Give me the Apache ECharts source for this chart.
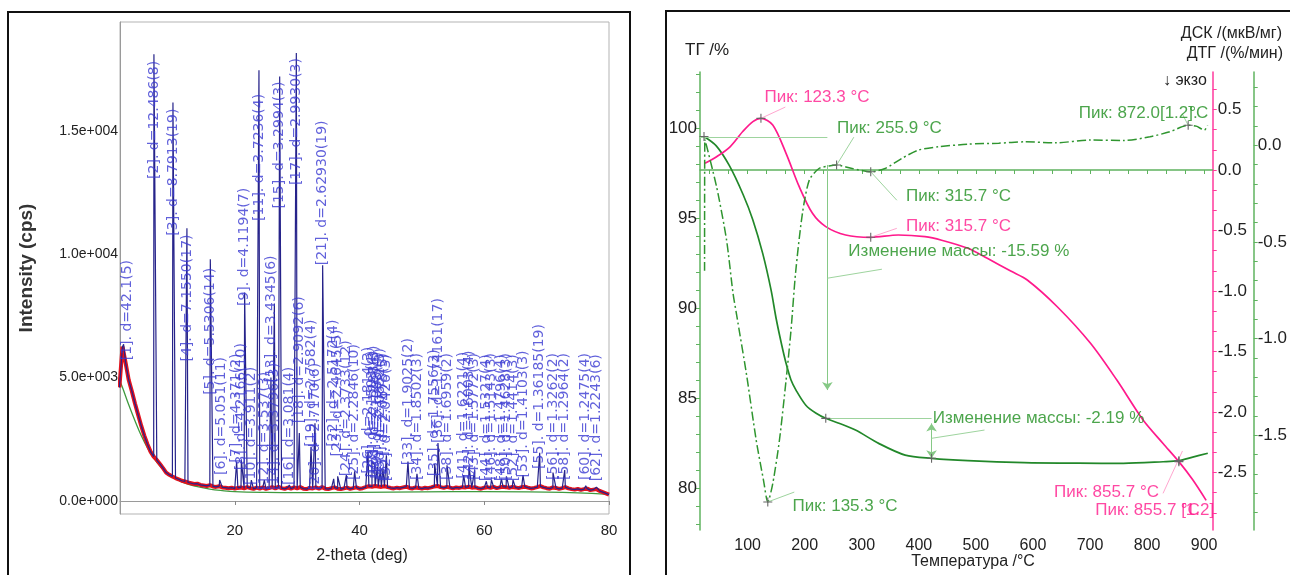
<!DOCTYPE html>
<html>
<head>
<meta charset="utf-8">
<script src="https://cdn.jsdelivr.net/npm/echarts@6/dist/echarts.min.js"></script>
<style>
  html, body { margin: 0; padding: 0; background: #fff; }
  #chart { width: 1290px; height: 575px; }
</style>
</head>
<body>
<div id="chart"></div>
<script>
// ---------------- X-ray powder pattern ----------------
// measured counts, sampled every 0.5 deg starting at 1.5 deg 2-theta
const scanStart = 1.5;
const scanStep = 0.5;
const scanCounts = [
  4600, 6250, 5600, 4900, 4450, 3950, 3500, 3050, 2650, 2300,
  2000, 1800, 1660, 1500, 1330, 1150, 1060, 990, 930, 880,
  820, 790, 750, 720, 690, 700, 650, 630, 610, 640,
  590, 570, 600, 550, 540, 520, 540, 500, 530, 550,
  510, 560, 520, 490, 540, 500, 550, 490, 520, 560,
  510, 570, 520, 490, 540, 500, 550, 510, 560, 500,
  480, 530, 510, 550, 500, 560, 500, 480, 520, 550,
  500, 480, 510, 540, 490, 520, 550, 500, 520, 560,
  600, 580, 610, 590, 570, 600, 560, 530, 510, 540,
  520, 550, 580, 530, 510, 550, 530, 500, 540, 520,
  550, 590, 610, 560, 530, 570, 540, 510, 550, 530,
  560, 550, 580, 540, 560, 520, 500, 540, 560, 530,
  570, 520, 550, 580, 560, 530, 570, 550, 520, 560,
  580, 540, 510, 530, 560, 600, 550, 520, 500, 550,
  530, 490, 520, 560, 510, 480, 460, 490, 450, 480,
  500, 440, 460, 480, 410, 360, 310, 260
];

// fitted background
const bgTheta  = [1.6, 2, 3, 4, 5, 6, 7, 8, 9, 10, 12, 14, 16, 18, 20, 25, 30, 40, 50, 60, 70, 75, 80];
const bgCounts = [4850, 4600, 3900, 3250, 2650, 2150, 1750, 1420, 1160, 960, 720, 580, 480, 420, 380, 350, 340, 350, 370, 380, 360, 330, 270];

// indexed peaks: position (2-theta), peak intensity, label
const peakTheta = [2.18, 7.04, 10.09, 12.33, 16.08, 17.58, 20.30, 21.06, 21.58, 22.66,
  23.88, 24.74, 25.80, 26.35, 27.20, 28.75, 29.87, 30.35, 32.22, 32.86,
  34.09, 35.86, 36.50, 37.89, 39.22, 41.36, 42.00, 42.43, 42.86, 43.35,
  43.76, 44.31, 47.77, 49.21, 52.05, 52.58, 54.03, 56.70, 57.55, 58.47,
  60.34, 61.15, 62.75, 63.55, 64.61, 66.21, 68.89, 71.02, 72.90, 76.27, 77.98];
const peakTop = [6350, 18100, 16150, 11050, 9800, 850, 1600, 1650, 8450, 850,
  17450, 850, 5000, 8000, 17200, 650, 18150, 2750, 2200, 3150,
  9550, 900, 1000, 1050, 1200, 2000, 1600, 1450, 1400, 1250,
  1300, 1850, 1600, 1100, 1500, 2350, 1450, 1050, 1400, 1250,
  800, 850, 900, 1000, 850, 1050, 1950, 1150, 1250, 620, 560];
const peakLabels = [
  '[1]. d=42.1(5)', '[2]. d=12.486(8)', '[3]. d=8.7913(19)', '[4]. d=7.1550(17)', '[5]. d=5.5306(14)',
  '[6]. d=5.051(11)', '[7]. d=4.371(2)', '[8]. d=4.2166(10)', '[9]. d=4.1194(7)', '[10]. d=3.911(2)',
  '[11]. d=3.7236(4)', '[12]. d=3.537(3)', '[13]. d=3.4345(6)', '[14]. d=3.3796(3)', '[15]. d=3.2994(3)',
  '[16]. d=3.081(4)', '[17]. d=2.9930(3)', '[18]. d=2.9092(6)', '[19]. d=2.7582(4)', '[20]. d=2.7170(6)',
  '[21]. d=2.62930(19)', '[22]. d=2.5172(4)', '[23]. d=2.4645(5)', '[24]. d=2.3733(12)', '[25]. d=2.2846(10)',
  '[26]. d=2.1814(3)', '[27]. d=2.1503(4)', '[28]. d=2.1288(3)', '[29]. d=2.1088(4)', '[30]. d=2.0852(3)',
  '[31]. d=2.0673(5)', '[32]. d=2.0426(3)', '[33]. d=1.9025(2)', '[34]. d=1.8502(3)', '[35]. d=1.7556(3)',
  '[36]. d=1.74161(17)', '[38]. d=1.6959(2)', '[41]. d=1.6221(4)', '[42]. d=1.6003(4)', '[43]. d=1.5772(3)',
  '[44]. d=1.5327(4)', '[46]. d=1.5143(3)', '[48]. d=1.4796(4)', '[50]. d=1.4628(3)', '[52]. d=1.4414(3)',
  '[53]. d=1.4103(3)', '[55]. d=1.36185(19)', '[56]. d=1.3262(2)', '[58]. d=1.2964(2)', '[60]. d=1.2475(4)',
  '[62]. d=1.2243(6)'
];
const xrdThetaTicks = [20, 40, 60, 80];
const xrdCountTicks = [0, 5000, 10000, 15000];

// where each peak caption starts (intensity units) and small sideways shifts
const captionBase = [5700, 13050, 10750, 5650, 4300, 1050, 1550, 1250, 7900, 650,
  11350, 450, 4800, 450, 11850, 650, 12800, 3150, 2200, 450,
  9550, 2200, 1800, 1000, 850, 1100, 950, 1150, 900, 1050,
  850, 800, 1450, 850, 1000, 2350, 850, 900, 950, 850,
  800, 850, 800, 850, 800, 950, 1300, 850, 850, 850, 800];
const captionShift = { 0: 0.67, 5: 0.27 };

// ---------------- Thermal analysis (TG / DSC / DTG) ----------------
const tgCurve = [[23.5, 99.52], [45, 99.0], [68, 97.9], [92, 96.3], [109, 94.9], [126.6, 93.0], [141, 91.0],
  [150, 89.4], [160, 87.9], [167.3, 86.93], [176, 86.0], [184.7, 85.44], [202, 84.6], [220, 84.15],
  [236.9, 83.87], [260, 83.6], [289, 83.22], [329.6, 82.48], [376, 81.83], [422.3, 81.65], [486, 81.52],
  [584.7, 81.41], [680, 81.38], [758.6, 81.37], [828, 81.46], [855.7, 81.52], [880, 81.72], [906.4, 81.93]];
const dscCurve = [[25.2, 0.055], [45.6, 0.11], [68.7, 0.19], [91.8, 0.32], [109.2, 0.40], [123.3, 0.427],
  [144, 0.372], [167.3, 0.138], [190.4, -0.138], [213.6, -0.358], [236.9, -0.468], [271.7, -0.537],
  [315.7, -0.556], [364, -0.537], [410.8, -0.551], [440, -0.58], [486, -0.647], [520, -0.73], [561, -0.835],
  [590, -0.909], [642.6, -1.13], [700.5, -1.43], [747, -1.736], [793, -2.066], [828, -2.26], [855.7, -2.41],
  [880, -2.56], [903.5, -2.73]];
const dtgCurve = [[24.5, -0.65], [25, 0.03], [45.6, -0.216], [63, -0.49], [74.4, -0.767], [80.3, -0.871],
  [97.7, -1.18], [115, -1.526], [127.8, -1.733], [135.3, -1.845], [144, -1.75], [155.7, -1.526],
  [167.3, -1.216], [176, -0.957], [184, -0.66], [196, -0.353], [208, -0.181], [225, -0.121], [242.6, -0.108],
  [255.9, -0.103], [283, -0.121], [315.7, -0.138], [341, -0.121], [370, -0.069], [399, -0.026], [434, -0.009],
  [486, 0.005], [540, 0.01], [584.7, 0.017], [640, 0.012], [700.5, 0.026], [760, 0.024], [805, 0.043],
  [839.7, 0.069], [872, 0.103], [886, 0.098], [900.5, 0.078], [906, 0.103]];

const tempTicks = [100, 200, 300, 400, 500, 600, 700, 800, 900];
const tgTicks = [80, 85, 90, 95, 100];
const dscTicks = [-2.5, -2.0, -1.5, -1.0, -0.5, 0.0, 0.5];
const dtgTicks = [-1.5, -1.0, -0.5, 0.0];

// peak readings and mass steps marked on the curves
const tgMarks = [23.5, 236.9, 422.3, 855.7];
const dscMarks = [123.3, 315.7, 855.7];
const dtgMarks = [135.3, 255.9, 315.7, 872];
const massStep1 = { from: 99.46, to: 83.87, at: 239.7, text: 'Изменение массы: -15.59 %' };
const massStep2 = { from: 83.87, to: 81.65, at: 422.3, text: 'Изменение массы: -2.19 %' };

// ---------------- drawing ----------------
const SANS = "'Liberation Sans',Arial,sans-serif";
const GREEN = '#22882a';
const TEXT_GREEN = '#1f8f1f';
const PINK = '#ff1a8c';
const AXIS_GREEN = '#5fb35f';
const PALE_GREEN = '#9ed49e';
const PALE_PINK = '#ffa6cf';

const scan = scanCounts.map((c, i) => [scanStart + i * scanStep, c]);
const profile = scan.concat(peakTheta.map((t, i) => [t, peakTop[i]]))
  .sort((a, b) => a[0] - b[0]);
const background = bgTheta.map((t, i) => [t, bgCounts[i]]);
const captions = peakTheta.map((t, i) => [t + (captionShift[i] || 0), captionBase[i], peakLabels[i]]);

const valueAt = (curve, t) => curve.find(p => p[0] === t);
const sci = v => {
  const parts = v.toExponential(1).split('e');
  return parts[0] + 'e' + parts[1][0] + parts[1].slice(1).padStart(3, '0');
};
const steps = (from, to, step) => {
  const out = [];
  for (let k = 0; from + k * step <= to + 1e-9; k++) out.push(+(from + k * step).toFixed(4));
  return out;
};

const plus = 'path://M4.4,0h1.2v4.4h4.4v1.2h-4.4v4.4h-1.2v-4.4h-4.4v-1.2h4.4z';
const crossMarks = (curve, temps) => ({
  symbol: plus, symbolSize: 9, silent: true, animation: false,
  itemStyle: { color: '#666' }, label: { show: false },
  data: temps.map(t => ({ coord: valueAt(curve, t) }))
});
const seg = (a, b, color, s0, s1) => [
  { coord: a, symbol: s0 || 'none', lineStyle: { color: color, width: 1, type: 'solid' } },
  { coord: b, symbol: s1 || 'none' }
];

const notes = [
  { text: 'Пик: 123.3 °C', at: [129.6, 101.67], color: PINK },
  { text: 'Пик: 255.9 °C', at: [256.5, 100.0], color: TEXT_GREEN },
  { text: 'Пик: 315.7 °C', at: [377.6, 96.22], color: TEXT_GREEN },
  { text: 'Пик: 315.7 °C', at: [377.6, 94.53], color: PINK },
  { text: massStep1.text, at: [276.5, 93.13], color: TEXT_GREEN },
  { text: massStep2.text, at: [424.5, 83.87], color: TEXT_GREEN },
  { text: 'Пик: 135.3 °C', at: [178.8, 78.96], color: TEXT_GREEN },
  { text: 'Пик: 855.7 °C', at: [636.9, 79.79], color: PINK },
  { text: 'Пик: 855.7 [1.2]', at: [709.2, 78.78], color: PINK },
  { text: '°C', at: [859, 78.78], color: PINK },
  { text: 'Пик: 872.0[1.2].', at: [680.3, 100.82], color: TEXT_GREEN },
  { text: '°C', at: [874, 100.82], color: TEXT_GREEN }
];

const chart = echarts.init(document.getElementById('chart'), null, { renderer: 'canvas' });

chart.setOption({
  animation: false,
  backgroundColor: '#fff',
  grid: [
    { left: 120, top: 22, width: 489, height: 492, show: true, borderColor: '#b3b3b3', borderWidth: 1 },
    { left: 700, top: 72, width: 517, height: 458 }
  ],
  xAxis: [
    {
      gridIndex: 0, type: 'value', min: 1.6, max: 80,
      axisLine: { show: true, lineStyle: { color: '#9a9a9a', width: 1 } },
      axisTick: { show: true, customValues: xrdThetaTicks, length: 4, lineStyle: { color: '#888' } },
      axisLabel: { customValues: xrdThetaTicks, fontFamily: SANS, fontSize: 15, color: '#222', margin: 9 },
      splitLine: { show: false }
    },
    {
      gridIndex: 1, type: 'value', min: 16.5, max: 915,
      axisLine: { show: true, lineStyle: { color: AXIS_GREEN, width: 1.5 } },
      axisTick: { show: true, customValues: steps(100 / 3, 915, 100 / 3), length: 4, lineStyle: { color: AXIS_GREEN } },
      axisLabel: { customValues: tempTicks, fontFamily: SANS, fontSize: 16, color: '#222', margin: 8 },
      splitLine: { show: false }
    }
  ],
  yAxis: [
    {
      gridIndex: 0, type: 'value', min: -527, max: 19409,
      axisLine: { show: true, lineStyle: { color: '#9a9a9a', width: 1 } },
      axisTick: { show: false },
      axisLabel: { customValues: xrdCountTicks, formatter: sci, fontFamily: SANS, fontSize: 14, color: '#222', margin: 2 },
      splitLine: { show: false },
      name: 'Intensity (cps)', nameLocation: 'middle', nameRotate: 90, nameGap: 84,
      nameTextStyle: { fontFamily: SANS, fontWeight: 'bold', fontSize: 19, color: '#333' }
    },
    {
      gridIndex: 1, type: 'value', position: 'left', min: 77.67, max: 103.1,
      axisLine: { show: true, lineStyle: { color: AXIS_GREEN, width: 1.5 } },
      axisTick: { show: true, customValues: steps(78, 103, 1), length: 4, lineStyle: { color: AXIS_GREEN } },
      axisLabel: { customValues: tgTicks, fontFamily: SANS, fontSize: 17, color: '#222', margin: 3 },
      splitLine: { show: false }
    },
    {
      gridIndex: 1, type: 'value', position: 'right', min: -2.975, max: 0.81,
      axisLine: { show: true, lineStyle: { color: '#ff3a9d', width: 1.5 } },
      axisTick: { show: true, customValues: steps(-2.8333, 0.7, 1 / 6), length: 4, lineStyle: { color: '#ff3a9d' } },
      axisLabel: { customValues: dscTicks, formatter: v => v.toFixed(1), fontFamily: SANS, fontSize: 17, color: '#222', margin: 5 },
      splitLine: { show: false }
    },
    {
      gridIndex: 1, type: 'value', position: 'right', offset: 41, min: -1.99, max: 0.378,
      axisLine: { show: true, lineStyle: { color: AXIS_GREEN, width: 1.5 } },
      axisTick: { show: true, customValues: steps(-1.9, 0.3, 0.1), length: 4, lineStyle: { color: AXIS_GREEN } },
      axisLabel: { customValues: dtgTicks, formatter: v => v.toFixed(1), fontFamily: SANS, fontSize: 17, color: '#222', margin: 4 },
      splitLine: { show: false }
    }
  ],
  series: [
    // --- diffraction pattern ---
    {
      name: 'background', type: 'line', xAxisIndex: 0, yAxisIndex: 0, data: background,
      smooth: 0.4, showSymbol: false, silent: true, z: 1,
      lineStyle: { color: '#3f9a3f', width: 1.3 }
    },
    {
      name: 'measured', type: 'line', xAxisIndex: 0, yAxisIndex: 0, data: scan,
      showSymbol: false, silent: true, z: 2,
      lineStyle: { color: '#e3121d', width: 4 }
    },
    {
      name: 'profile', type: 'line', xAxisIndex: 0, yAxisIndex: 0, data: profile,
      showSymbol: false, silent: true, z: 3,
      lineStyle: { color: '#26238a', width: 1.2 }
    },
    {
      name: 'peak captions', type: 'scatter', xAxisIndex: 0, yAxisIndex: 0, data: captions,
      symbolSize: 0, silent: true, z: 4,
      itemStyle: { color: 'transparent' },
      label: {
        show: true, formatter: p => p.data[2], rotate: 90, position: [0, 0],
        align: 'left', verticalAlign: 'middle',
        fontFamily: "'DejaVu Sans',sans-serif", fontSize: 14, color: '#3a3ad2'
      }
    },
    // --- thermal curves ---
    {
      name: 'ТГ', type: 'line', xAxisIndex: 1, yAxisIndex: 1, data: tgCurve,
      smooth: 0.3, showSymbol: false, silent: true, z: 3,
      lineStyle: { color: GREEN, width: 1.7 },
      markLine: {
        silent: true, animation: false, symbolSize: 8, label: { show: false },
        data: [
          seg([16.5, massStep1.from], [massStep1.at, massStep1.from], PALE_GREEN),
          seg([massStep1.at, 97.94], [massStep1.at, 85.44], '#86c986', 'none', 'arrow'),
          seg([236.9, massStep2.from], [massStep2.at, massStep2.from], PALE_GREEN),
          seg([massStep2.at, 83.59], [massStep2.at, massStep2.to], '#86c986', 'arrow', 'arrow'),
          seg([massStep1.at, 91.65], [335.3, 92.15], PALE_GREEN),
          seg([massStep2.at, 82.76], [515.1, 83.22], PALE_GREEN)
        ]
      },
      markPoint: crossMarks(tgCurve, tgMarks)
    },
    {
      name: 'ДСК', type: 'line', xAxisIndex: 1, yAxisIndex: 2, data: dscCurve,
      smooth: 0.3, showSymbol: false, silent: true, z: 3,
      lineStyle: { color: PINK, width: 1.7 },
      markLine: {
        silent: true, animation: false, label: { show: false },
        data: [
          seg([123.3, 0.427], [166, 0.52], PALE_PINK),
          seg([315.7, -0.556], [361.4, -0.482], PALE_PINK),
          seg([828, -2.672], [862, -2.322], PALE_PINK)
        ]
      },
      markPoint: crossMarks(dscCurve, dscMarks)
    },
    {
      name: 'ДТГ', type: 'line', xAxisIndex: 1, yAxisIndex: 3, data: dtgCurve,
      smooth: 0.25, showSymbol: false, silent: true, z: 3,
      lineStyle: { color: '#2f952f', width: 1.5, type: [9, 3, 2, 3] },
      markLine: {
        silent: true, animation: false, label: { show: false },
        data: [
          seg([255.9, -0.103], [286.1, 0.041], PALE_GREEN),
          seg([315.7, -0.138], [361.4, -0.285], PALE_GREEN),
          seg([135.3, -1.845], [181.7, -1.794], PALE_GREEN),
          seg([872, 0.103], [862, 0.16], PALE_GREEN)
        ]
      },
      markPoint: crossMarks(dtgCurve, dtgMarks)
    },
    {
      name: 'notes', type: 'scatter', xAxisIndex: 1, yAxisIndex: 1, symbolSize: 0, silent: true, z: 5,
      itemStyle: { color: 'transparent' },
      data: notes.map(n => ({ value: n.at, name: n.text, label: { color: n.color } })),
      label: {
        show: true, formatter: p => p.name, position: [0, 0], align: 'left', verticalAlign: 'middle',
        fontFamily: SANS, fontSize: 17
      }
    }
  ],
  graphic: [
    { type: 'rect', silent: true, z: 100, shape: { x: 8, y: 12, width: 622, height: 620 },
      style: { fill: 'transparent', stroke: '#111', lineWidth: 2 } },
    { type: 'rect', silent: true, z: 100, shape: { x: 666, y: 11, width: 700, height: 620 },
      style: { fill: 'transparent', stroke: '#111', lineWidth: 2 } },
    { type: 'text', silent: true, x: 362, y: 556,
      style: { text: '2-theta (deg)', font: '16px ' + SANS, fill: '#222', textAlign: 'center', textVerticalAlign: 'middle' } },
    { type: 'text', silent: true, x: 685, y: 50,
      style: { text: 'ТГ /%', font: '17px ' + SANS, fill: '#222', textAlign: 'left', textVerticalAlign: 'middle' } },
    { type: 'text', silent: true, x: 1282, y: 34,
      style: { text: 'ДСК /(мкВ/мг)', font: '16px ' + SANS, fill: '#222', textAlign: 'right', textVerticalAlign: 'middle' } },
    { type: 'text', silent: true, x: 1283, y: 54,
      style: { text: 'ДТГ /(%/мин)', font: '16px ' + SANS, fill: '#222', textAlign: 'right', textVerticalAlign: 'middle' } },
    { type: 'text', silent: true, x: 1163, y: 81,
      style: { text: '↓ экзо', font: '16px ' + SANS, fill: '#222', textAlign: 'left', textVerticalAlign: 'middle' } },
    { type: 'text', silent: true, x: 973, y: 562,
      style: { text: 'Температура /°C', font: '16px ' + SANS, fill: '#222', textAlign: 'center', textVerticalAlign: 'middle' } }
  ]
});
</script>
</body>
</html>
